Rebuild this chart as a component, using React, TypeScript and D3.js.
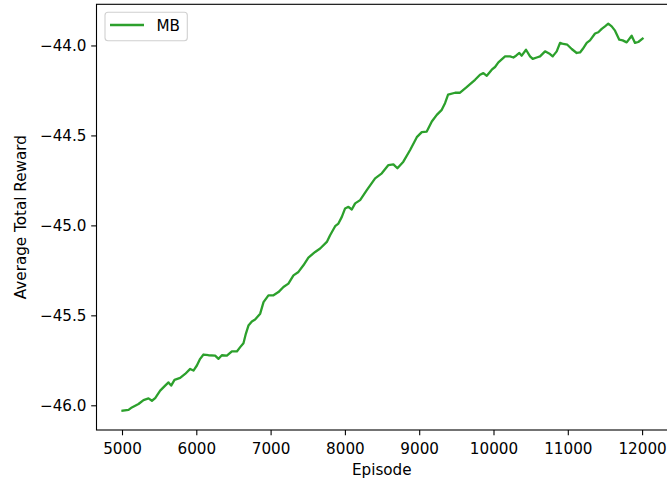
import React from "react";
import * as d3 from "d3";

const episodes = [
  5000, 5081, 5126, 5215, 5283, 5350, 5396, 5440, 5507, 5574, 5619, 5655, 5700, 5776, 5843, 5911, 5955, 6001,
  6045, 6090, 6157, 6247, 6292, 6337, 6405, 6472, 6539, 6584, 6628, 6660, 6695, 6741, 6785, 6853, 6898, 6964,
  7032, 7099, 7166, 7233, 7301, 7368, 7435, 7502, 7593, 7660, 7750, 7794, 7862, 7906, 7952, 7996, 8041, 8086,
  8131, 8198, 8288, 8400, 8490, 8579, 8646, 8700, 8780, 8871, 8961, 9028, 9095, 9163, 9230, 9297, 9341, 9382,
  9476, 9543, 9624, 9745, 9812, 9857, 9903, 9970, 10014, 10059, 10149, 10216, 10261, 10297, 10341, 10373,
  10431, 10485, 10521, 10575, 10620, 10687, 10754, 10790, 10844, 10889, 10933, 10987, 11046, 11113, 11158,
  11194, 11248, 11292, 11360, 11404, 11450, 11494, 11538, 11584, 11629, 11686, 11732, 11786, 11853, 11898,
  11942, 12000,
];

const rewardMB = [
  -46.027, -46.023, -46.009, -45.99, -45.968, -45.959, -45.972, -45.957, -45.916, -45.888, -45.87, -45.888,
  -45.856, -45.845, -45.823, -45.795, -45.804, -45.776, -45.739, -45.715, -45.719, -45.721, -45.739, -45.719,
  -45.721, -45.697, -45.698, -45.674, -45.652, -45.6, -45.554, -45.531, -45.52, -45.488, -45.424, -45.386,
  -45.386, -45.368, -45.34, -45.321, -45.275, -45.256, -45.219, -45.176, -45.145, -45.126, -45.089, -45.052,
  -45.002, -44.987, -44.95, -44.903, -44.894, -44.909, -44.875, -44.857, -44.801, -44.736, -44.708, -44.662,
  -44.658, -44.68, -44.643, -44.578, -44.507, -44.479, -44.476, -44.42, -44.383, -44.355, -44.318, -44.271,
  -44.26, -44.26, -44.232, -44.188, -44.16, -44.151, -44.166, -44.132, -44.117, -44.091, -44.058, -44.058,
  -44.064, -44.054, -44.039, -44.054, -44.021, -44.058, -44.072, -44.064, -44.058, -44.03, -44.045, -44.058,
  -44.03, -43.983, -43.989, -43.993, -44.017, -44.039, -44.036, -44.017, -43.983, -43.969, -43.931, -43.924,
  -43.905, -43.891, -43.876, -43.891, -43.915, -43.965, -43.969, -43.98, -43.943, -43.983, -43.978, -43.959,
];

const xTicks = [5000, 6000, 7000, 8000, 9000, 10000, 11000, 12000];
const yTicks = [-46.0, -45.5, -45.0, -44.5, -44.0];
const seriesName = "MB";
const xLabel = "Episode";
const yLabel = "Average Total Reward";

const W = 667;
const H = 480;
const M = { left: 96.5, right: 668.6, top: 4.3, bottom: 430 };
const FONT = "'DejaVu Sans', sans-serif";
const FS = 15.2;
const GREEN = "#2ca02c";

export default function App() {
  const [x0, x1] = d3.extent(episodes) as [number, number];
  const [y0, y1] = d3.extent(rewardMB) as [number, number];
  const xm = (x1 - x0) * 0.05;
  const ym = (y1 - y0) * 0.05;
  const x = d3.scaleLinear().domain([x0 - xm, x1 + xm]).range([M.left, M.right]);
  const y = d3.scaleLinear().domain([y0 - ym, y1 + ym]).range([M.bottom, M.top]);
  const line = d3
    .line<number>()
    .x((_, i) => x(episodes[i]))
    .y((d) => y(d));
  const fmtY = (v: number) => v.toFixed(1).replace("-", "\u2212");
  const tickLen = 5.3;

  return (
    <svg
      width={W}
      height={H}
      style={{ position: "absolute", left: 0, top: 0, background: "#fff" }}
      fontFamily={FONT}
    >
      <rect x={0} y={0} width={W} height={H} fill="#fff" />
      <defs>
        <clipPath id="plotclip">
          <rect x={M.left} y={M.top} width={M.right - M.left} height={M.bottom - M.top} />
        </clipPath>
      </defs>
      <path
        d={line(rewardMB) || ""}
        fill="none"
        stroke={GREEN}
        strokeWidth={2.3}
        strokeLinejoin="round"
        strokeLinecap="square"
        clipPath="url(#plotclip)"
      />
      <rect
        x={M.left}
        y={M.top}
        width={M.right - M.left}
        height={M.bottom - M.top}
        fill="none"
        stroke="#000"
        strokeWidth={1.1}
      />
      {xTicks.map((t) => (
        <g key={t} transform={`translate(${x(t)},${M.bottom})`}>
          <line y1={0} y2={tickLen} stroke="#000" strokeWidth={1.1} />
          <text y={24} textAnchor="middle" fontSize={FS} fill="#000">
            {t}
          </text>
        </g>
      ))}
      {yTicks.map((t) => (
        <g key={t} transform={`translate(${M.left},${y(t)})`}>
          <line x1={0} x2={-tickLen} stroke="#000" strokeWidth={1.1} />
          <text x={-10} dy="0.36em" textAnchor="end" fontSize={FS} fill="#000">
            {fmtY(t)}
          </text>
        </g>
      ))}
      <text x={(M.left + Math.min(M.right, W)) / 2 + 0} y={475} textAnchor="middle" fontSize={FS} fill="#000">
        {xLabel}
      </text>
      <text
        transform={`translate(26,${(M.top + M.bottom) / 2}) rotate(-90)`}
        textAnchor="middle"
        fontSize={FS}
        fill="#000"
      >
        {yLabel}
      </text>
      <g>
        <rect
          x={105}
          y={12.3}
          width={82.3}
          height={28.4}
          rx={3}
          fill="#fff"
          fillOpacity={0.8}
          stroke="#d0d0d0"
          strokeWidth={1.1}
        />
        <line x1={110} x2={144} y1={25} y2={25} stroke={GREEN} strokeWidth={2.3} />
        <text x={156.5} y={30.5} fontSize={FS} fill="#000">
          {seriesName}
        </text>
      </g>
    </svg>
  );
}
